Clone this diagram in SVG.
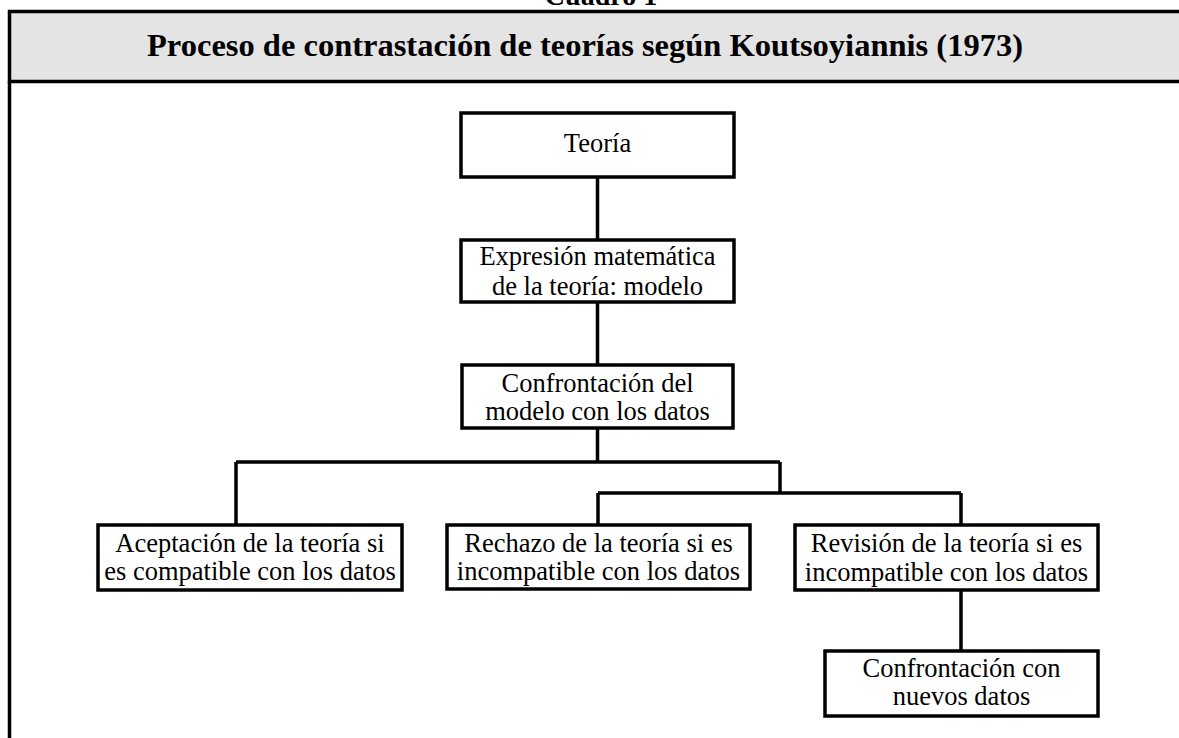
<svg xmlns="http://www.w3.org/2000/svg" width="1179" height="738" viewBox="0 0 1179 738">
<style>
.box{fill:#fff;stroke:#000;stroke-width:3.5}
.t{font-family:"Liberation Serif","Times New Roman",serif;font-size:26.5px;fill:#000;text-anchor:middle}
.h{font-family:"Liberation Serif","Times New Roman",serif;font-weight:bold;fill:#000;text-anchor:middle}
.c{fill:none;stroke:#000;stroke-width:3.5}
</style>
<rect width="1179" height="738" fill="#fff"/>
<g id="frame">
<rect x="9.5" y="11.5" width="1175" height="70" fill="#e4e4e4" stroke="#000" stroke-width="3.5"/>
<line x1="9.5" y1="81.5" x2="9.5" y2="740" stroke="#000" stroke-width="3.5"/>
<text class="h" x="601" y="5" font-size="28">Cuadro 1</text>
<text class="h" x="585" y="56" font-size="32.5">Proceso de contrastación de teorías según Koutsoyiannis (1973)</text>
</g>
<g id="connectors">
<path class="c" d="M597.5 177V240M597.5 302V365M597.5 428V462M236 462H780M236 462V525M780 462V493M598 493H961M598 493V525M961 493V525M961 590V651"/>
</g>
<g id="n1"><rect class="box" x="461" y="113" width="273" height="64"/><text class="t" x="597.5" y="152">Teoría</text></g>
<g id="n2"><rect class="box" x="461" y="240" width="273" height="62"/><text class="t" x="597.5" y="265">Expresión matemática</text><text class="t" x="597.5" y="295">de la teoría: modelo</text></g>
<g id="n3"><rect class="box" x="462" y="365" width="271" height="63"/><text class="t" x="597.5" y="392">Confrontación del</text><text class="t" x="597.5" y="420">modelo con los datos</text></g>
<g id="n4"><rect class="box" x="98" y="525" width="304" height="65"/><text class="t" x="250" y="552">Aceptación de la teoría si</text><text class="t" x="250" y="580">es compatible con los datos</text></g>
<g id="n5"><rect class="box" x="447" y="525" width="303" height="64"/><text class="t" x="598.5" y="552">Rechazo de la teoría si es</text><text class="t" x="598.5" y="580">incompatible con los datos</text></g>
<g id="n6"><rect class="box" x="795" y="525" width="303" height="65"/><text class="t" x="946.5" y="552">Revisión de la teoría si es</text><text class="t" x="946.5" y="581">incompatible con los datos</text></g>
<g id="n7"><rect class="box" x="825" y="651" width="273" height="65"/><text class="t" x="961.5" y="677">Confrontación con</text><text class="t" x="961.5" y="705">nuevos datos</text></g>
</svg>
